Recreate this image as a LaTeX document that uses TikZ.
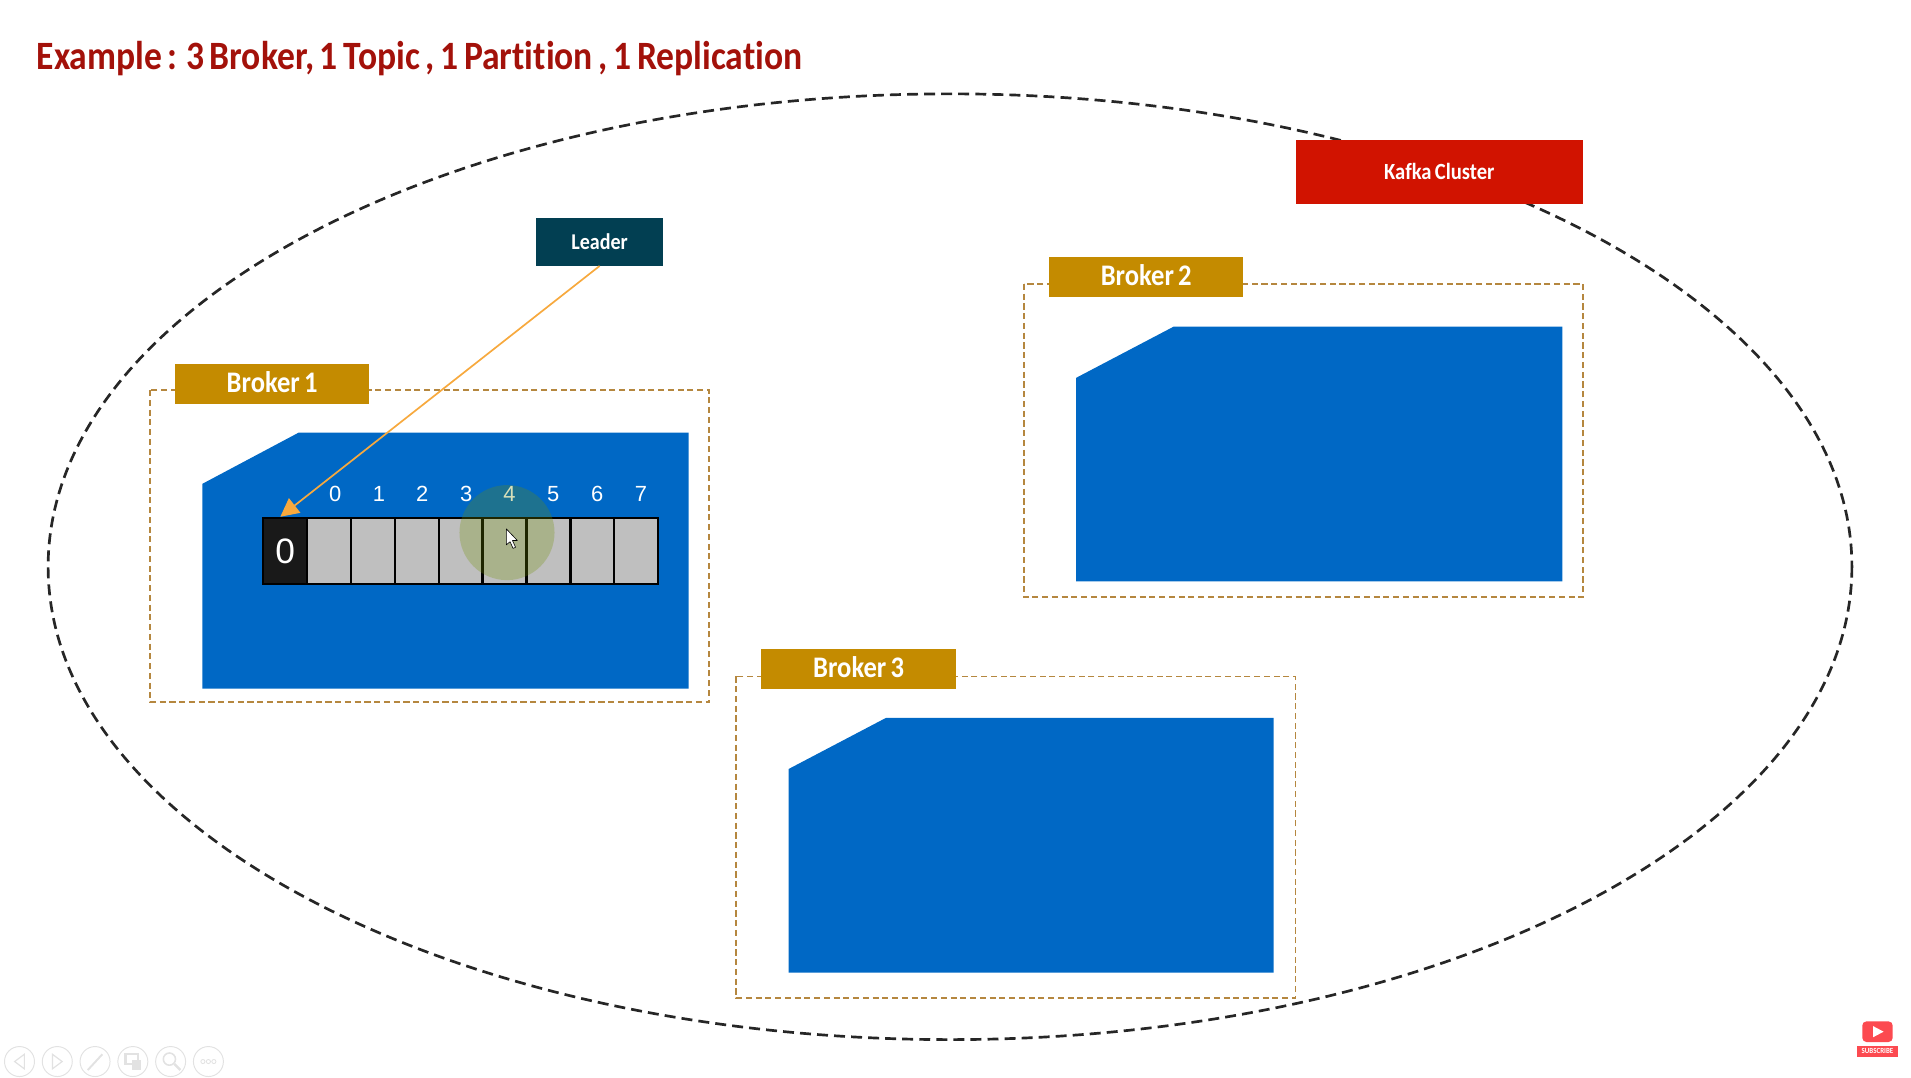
\documentclass[tikz,border=0pt]{standalone}
\usepackage{fontspec}
\setmainfont[FakeStretch=0.89,WordSpace=0.7,Ligatures=NoCommon]{Carlito}
\newfontfamily\titlefont[FakeStretch=0.885,WordSpace=0.7,Ligatures=NoCommon]{Carlito}
\newfontfamily\arialfont{Liberation Sans}
\usetikzlibrary{arrows.meta}
\definecolor{brokergold}{HTML}{C48B00}
\definecolor{brokerdash}{HTML}{B5873F}
\definecolor{segblue}{HTML}{0068C5}
\definecolor{cellgrey}{HTML}{BFBFBF}
\definecolor{titlered}{HTML}{A3110A}
\definecolor{kafkared}{HTML}{D11300}
\definecolor{leaderteal}{HTML}{023F52}
\definecolor{arroworange}{HTML}{F7A93E}
\definecolor{toolgrey}{HTML}{E2E2E2}
\definecolor{ytred}{HTML}{FC4A50}
\definecolor{hilite}{RGB}{113,143,0}
\tikzset{
  tag/.style={inner sep=0pt,text=white,font=\bfseries,align=center},
  brokertag/.style={tag,fill=brokergold,minimum width=159.5pt,minimum height=33pt,text height=17pt,text depth=3.6pt,font=\bfseries\fontsize{24.5}{24.5}\selectfont},
  brokerframe/.style={draw=brokerdash,line width=1.5pt,dash pattern=on 5pt off 3pt},
  segment/.style={fill=segblue},
  cellbox/.style={draw=black,line width=2pt,fill=cellgrey,minimum width=36pt,minimum height=54pt,inner sep=0pt},
  idx/.style={text=white,font=\arialfont\fontsize{18}{18}\selectfont,inner sep=0pt},
  toolring/.style={draw=toolgrey,line width=0.8pt},
  toolmark/.style={draw=toolgrey,line width=1pt},
}
\begin{document}
\begin{tikzpicture}[x=1pt,y=-1pt]
\useasboundingbox (0,0) rectangle (1568,883.7);
% cluster
\draw[black!85,line width=2.2pt,dash pattern=on 9pt off 5pt] (779.5,465) ellipse [x radius=740,y radius=388];
\node[tag,fill=kafkared,minimum width=236pt,minimum height=52pt,font=\bfseries\fontsize{19}{19}\selectfont] (kafka) at (1181,141) {Kafka Cluster};
% title
\node[anchor=west,inner sep=0pt,text=titlered,font=\titlefont\bfseries\fontsize{33}{33}\selectfont] (title) at (30,48) {Example : 3 Broker, 1 Topic , 1 Partition , 1 Replication};
% broker 1
\draw[brokerframe] (123,320) rectangle (582,576);
\fill[segment] (166,397) -- (245,355) -- (565,355) -- (565,565) -- (166,565) -- cycle;
\node[brokertag] (b1) at (223.3,315) {Broker 1};
% broker 2
\draw[brokerframe] (840,233) rectangle (1299,490);
\fill[segment] (883,310) -- (963,268) -- (1282,268) -- (1282,477) -- (883,477) -- cycle;
\node[brokertag] (b2) at (940.5,227.5) {Broker 2};
% broker 3
\draw[brokerframe] (604,555) rectangle (1063,819);
\fill[segment] (647,631) -- (727,589) -- (1045,589) -- (1045,798) -- (647,798) -- cycle;
\node[brokertag] (b3) at (704.5,549) {Broker 3};
% partition cells
\node[cellbox,fill=black!90,text=white,font=\arialfont\fontsize{29}{29}\selectfont] (cellz) at (234,452) {0};
\foreach \i/\cx in {0/270,1/306,2/342,3/378,4/414,5/450,6/486,7/522}{
  \node[cellbox] (cell\i) at (\cx,452) {};
}
\foreach \i/\cx in {0/275,1/311,2/346.5,3/382.5,4/418,5/454,6/490,7/526}{
  \node[idx] (num\i) at (\cx,405) {\i};
}
% leader
\node[tag,fill=leaderteal,minimum width=104pt,minimum height=39pt,font=\bfseries\fontsize{18.5}{18.5}\selectfont] (leader) at (492,198.5) {Leader};
\draw[arroworange,line width=1.4pt,-{Triangle[length=15pt,width=15pt]}] (leader.south) -- ([xshift=-4pt]cellz.north);
% pointer highlight
\fill[hilite,opacity=.27] (416,437) circle (39);
\draw[black,fill=white,line width=.5pt,line join=round] (415.5,434) -- (415.5,447) -- (418.5,444.5) -- (421,450) -- (423,449) -- (420.5,443.5) -- (424.5,443.5) -- cycle;
% slide-show toolbar
\foreach \cx in {16,47,78,109,140,171}{
  \draw[toolring] (\cx,871) circle (12.3);
}
\draw[toolmark] (20,865) -- (12,871) -- (20,877) -- cycle;
\draw[toolmark] (43,865) -- (51,871) -- (43,877) -- cycle;
\draw[toolmark,line width=1.6pt] (72,878) -- (84,865);
\draw[toolmark,line width=2pt] (103,865) rectangle (113,873);
\fill[toolgrey] (108,870) rectangle (116,878);
\draw[toolmark,line width=1.3pt] (139,869) circle (5);
\draw[toolmark,line width=2pt] (143,873) -- (148,878);
\foreach \cx in {166.5,171,175.5}{ \draw[toolmark,line width=.7pt] (\cx,871) circle (1.7); }
% subscribe badge
\fill[ytred,rounded corners=3.5pt] (1528,838) rectangle (1553,855);
\fill[white] (1537,842) -- (1545.5,846.5) -- (1537,851) -- cycle;
\node[fill=ytred,text=white,inner sep=0pt,minimum width=33pt,minimum height=9pt,font=\bfseries\fontsize{6.4}{6.4}\selectfont] (sub) at (1540.5,862.5) {SUBSCRIBE};
\end{tikzpicture}
\end{document}
